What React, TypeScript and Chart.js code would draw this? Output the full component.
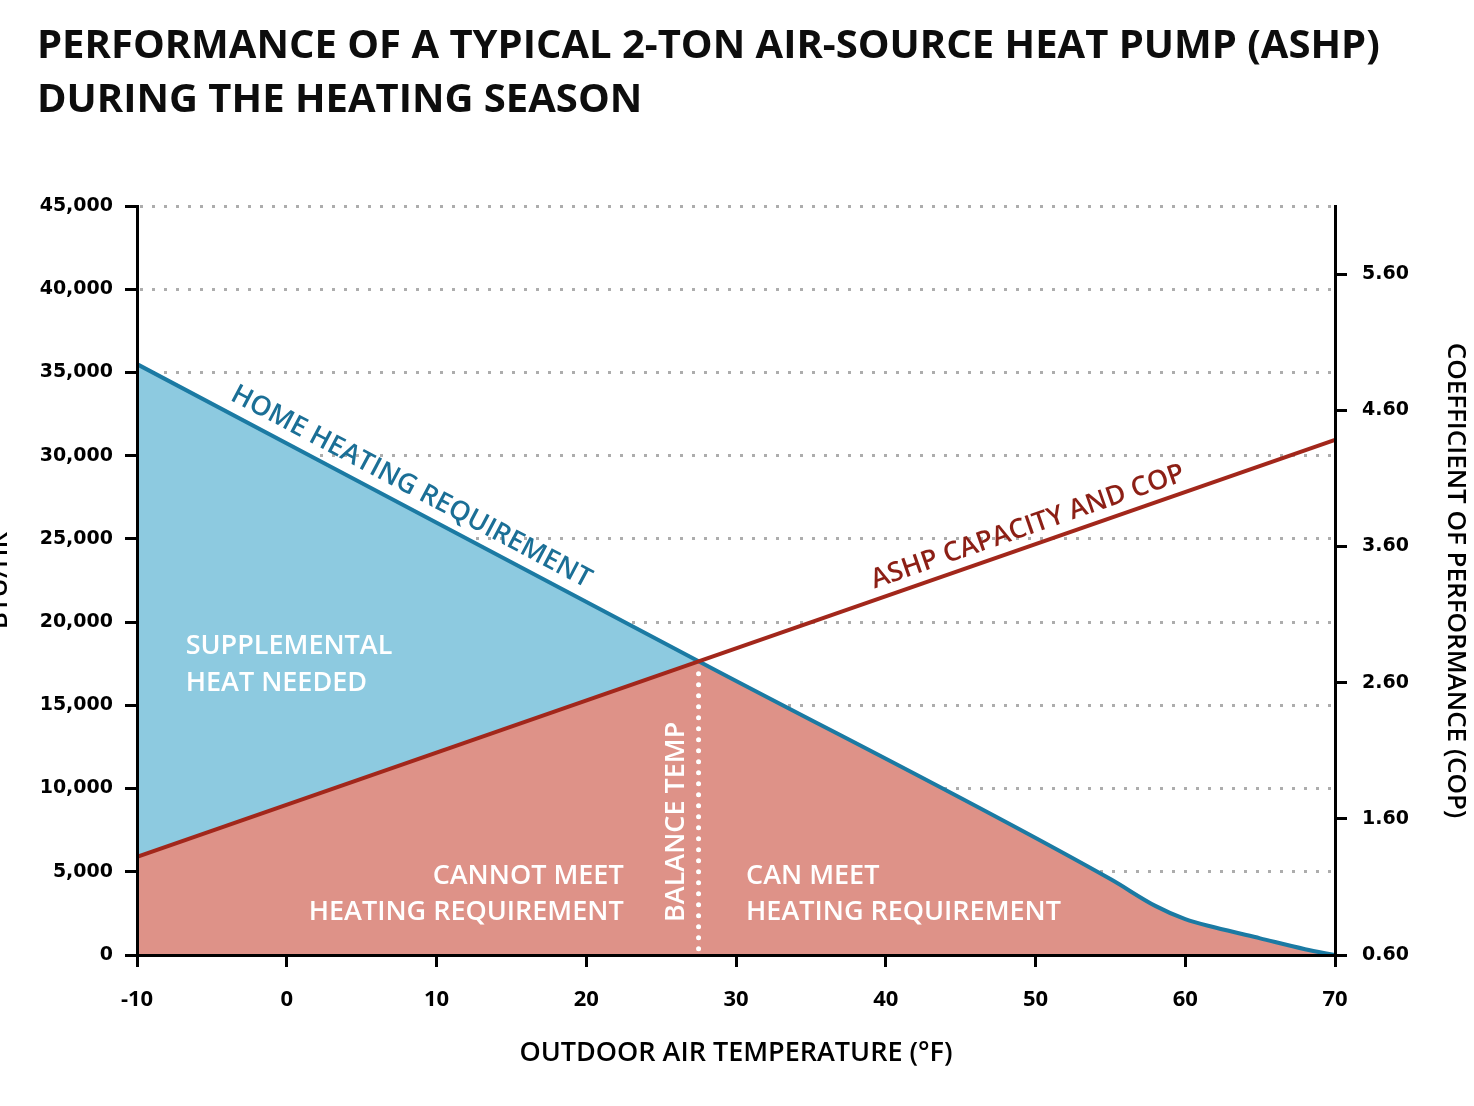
import React, { useEffect, useRef } from 'react';
import { Chart, registerables } from 'chart.js';

Chart.register(...registerables);

const TITLE_LINES = ['PERFORMANCE OF A TYPICAL 2-TON AIR-SOURCE HEAT PUMP (ASHP)', 'DURING THE HEATING SEASON'];
const X_TITLE = 'OUTDOOR AIR TEMPERATURE (°F)';
const Y_TITLE = 'BTU/HR';
const Y2_TITLE = 'COEFFICIENT OF PERFORMANCE (COP)';

const TEMP_MIN = -10;
const TEMP_MAX = 70;
const TEMP_STEP = 10;
const BTU_MIN = 0;
const BTU_MAX = 45000;
const BTU_STEP = 5000;
const COP_TICKS = [0.6, 1.6, 2.6, 3.6, 4.6, 5.6];
const COP_MIN = 0.6;
const COP_MAX = 6.1;

// Home heating requirement (BTU/hr) vs outdoor temperature (°F)
const HEAT_REQ_TEMPS = [-10, 27.5, 55, 58, 60, 62, 65, 68, 70];
const HEAT_REQ_BTU = [35500, 17650, 4560, 2950, 2150, 1650, 1000, 350, 0];
// ASHP capacity (BTU/hr) vs outdoor temperature (°F)
const ASHP_TEMPS = [-10, 70];
const ASHP_BTU = [5900, 30950];
// Balance temperature marker
const BALANCE_TEMPS = [27.5, 27.5];
const BALANCE_BTU = [16900, 250];

const LIGHT_BLUE = '#8dcae0';
const SALMON = '#de9288';
const BLUE_LINE = '#1b7aa3';
const RED_LINE = '#a2271b';
const BLUE_TEXT = '#1b6f96';
const RED_TEXT = '#8c1f15';

const heatReq = HEAT_REQ_TEMPS.map((t, i) => ({ x: t, y: HEAT_REQ_BTU[i] }));
const ashp = ASHP_TEMPS.map((t, i) => ({ x: t, y: ASHP_BTU[i] }));
const balance = BALANCE_TEMPS.map((t, i) => ({ x: t, y: BALANCE_BTU[i] }));

const interp = (xs: number[], ys: number[], t: number) => {
  for (let i = 0; i < xs.length - 1; i++) {
    if (t >= xs[i] && t <= xs[i + 1]) {
      return ys[i] + ((ys[i + 1] - ys[i]) * (t - xs[i])) / (xs[i + 1] - xs[i]);
    }
  }
  return ys[ys.length - 1];
};

const annotationPlugin = {
  id: 'annotations',
  afterDatasetsDraw(chart: any) {
    const { ctx, scales } = chart;
    const x = scales.x;
    const y = scales.y;
    const along = (text: string, xs: number[], ys: number[], t: number, off: number, color: string) => {
      const a0 = x.getPixelForValue(xs[0]);
      const b0 = y.getPixelForValue(ys[0]);
      const a1 = x.getPixelForValue(xs[1]);
      const b1 = y.getPixelForValue(ys[1]);
      const ang = Math.atan2(b1 - b0, a1 - a0);
      ctx.save();
      ctx.translate(x.getPixelForValue(t), y.getPixelForValue(interp(xs, ys, t)));
      ctx.rotate(ang);
      ctx.font = '600 27px "Open Sans"';
      ctx.fillStyle = color;
      ctx.textAlign = 'center';
      ctx.textBaseline = 'alphabetic';
      ctx.fillText(text, 0, off);
      ctx.restore();
    };
    along('HOME HEATING REQUIREMENT', HEAT_REQ_TEMPS, HEAT_REQ_BTU, 7.7, -12, BLUE_TEXT);
    along('ASHP CAPACITY AND COP', ASHP_TEMPS, ASHP_BTU, 49.9, -11, RED_TEXT);

    ctx.save();
    ctx.fillStyle = '#ffffff';
    ctx.font = '600 27px "Open Sans"';
    ctx.textBaseline = 'middle';
    ctx.textAlign = 'left';
    ctx.fillText('SUPPLEMENTAL', x.getPixelForValue(-6.75), y.getPixelForValue(18570));
    ctx.fillText('HEAT NEEDED', x.getPixelForValue(-6.75), y.getPixelForValue(16350));
    ctx.textAlign = 'right';
    ctx.fillText('CANNOT MEET', x.getPixelForValue(22.5), y.getPixelForValue(4750));
    ctx.fillText('HEATING REQUIREMENT', x.getPixelForValue(22.5), y.getPixelForValue(2580));
    ctx.textAlign = 'left';
    ctx.fillText('CAN MEET', x.getPixelForValue(30.67), y.getPixelForValue(4750));
    ctx.fillText('HEATING REQUIREMENT', x.getPixelForValue(30.67), y.getPixelForValue(2580));
    ctx.translate(x.getPixelForValue(26.0), y.getPixelForValue(8000));
    ctx.rotate(-Math.PI / 2);
    ctx.textAlign = 'center';
    ctx.fillText('BALANCE TEMP', 0, 0);
    ctx.restore();

    // left axis title (cut off at the page edge, as in the reference)
    ctx.save();
    const cy = (chart.chartArea.top + chart.chartArea.bottom) / 2;
    ctx.translate(7, cy);
    ctx.rotate(-Math.PI / 2);
    ctx.font = '600 26px "Open Sans"';
    ctx.fillStyle = '#000';
    ctx.textAlign = 'center';
    ctx.textBaseline = 'alphabetic';
    ctx.fillText(Y_TITLE, 0, 0);
    ctx.restore();
  },
};

export default function App() {
  const ref = useRef<HTMLCanvasElement>(null);
  useEffect(() => {
    if (!ref.current) return;
    const chart = new Chart(ref.current, {
      type: 'line',
      data: {
        datasets: [
          {
            label: 'Balance temp',
            data: balance,
            borderColor: '#ffffff',
            borderWidth: 5,
            borderDash: [0, 11],
            borderCapStyle: 'round',
            pointRadius: 0,
            fill: false,
          },
          {
            label: 'ASHP capacity and COP',
            data: ashp,
            borderColor: RED_LINE,
            borderWidth: 4,
            pointRadius: 0,
            fill: false,
          },
          {
            label: 'Home heating requirement',
            data: heatReq,
            borderColor: BLUE_LINE,
            borderWidth: 4,
            pointRadius: 0,
            cubicInterpolationMode: 'monotone',
            fill: false,
          },
          {
            label: 'Supplemental heat needed',
            data: ashp,
            borderWidth: 0,
            borderColor: 'rgba(0,0,0,0)',
            pointRadius: 0,
            fill: { target: 4, above: 'rgba(0,0,0,0)', below: LIGHT_BLUE },
          },
          {
            label: 'Heat pump output',
            data: heatReq,
            borderWidth: 0,
            borderColor: 'rgba(0,0,0,0)',
            pointRadius: 0,
            cubicInterpolationMode: 'monotone',
            backgroundColor: SALMON,
            fill: 'origin',
          },
        ] as any,
      },
      options: {
        responsive: false,
        animation: false,
        layout: { padding: { left: 37, right: 0, top: 0, bottom: 0 } },
        plugins: {
          legend: { display: false },
          tooltip: { enabled: false },
          title: {
            display: true,
            text: TITLE_LINES,
            align: 'start',
            color: '#0d0d0d',
            font: { family: 'Open Sans', size: 40, weight: '700', lineHeight: 1.35 },
            padding: { top: 20, bottom: 78 },
          },
        },
        scales: {
          x: {
            type: 'linear',
            min: TEMP_MIN,
            max: TEMP_MAX,
            ticks: {
              stepSize: TEMP_STEP,
              color: '#000',
              padding: 20,
              font: { family: 'Open Sans', size: 22, weight: '700' },
            },
            grid: { drawOnChartArea: false, lineWidth: 3, tickLength: 12, tickWidth: 3, tickColor: '#000' },
            border: { color: '#000', width: 3, z: 1 },
            title: {
              display: true,
              text: X_TITLE,
              color: '#000',
              font: { family: 'Open Sans', size: 27, weight: '600' },
              padding: { top: 6, bottom: 36 },
            },
            afterFit: (s: any) => {
              s.height = 151;
            },
          },
          y: {
            type: 'linear',
            position: 'left',
            min: BTU_MIN,
            max: BTU_MAX,
            ticks: {
              stepSize: BTU_STEP,
              color: '#000',
              padding: 12,
              font: { family: 'DejaVu Sans', size: 19, weight: 'bold' },
              callback: (v: any) => Number(v).toLocaleString('en-US'),
            },
            grid: {
              drawOnChartArea: true,
              color: (c: any) => (c.tick && c.tick.value === 0 ? 'rgba(0,0,0,0)' : '#adadad'),
              lineWidth: 3,
              tickLength: 12,
              tickWidth: 3,
              tickColor: '#000',
              tickBorderDash: [],
            },
            border: { color: '#000', width: 3, dash: [3, 9], dashOffset: 11, z: 1 },
            afterFit: (s: any) => {
              s.width = 100;
            },
          },
          y2: {
            type: 'linear',
            position: 'right',
            min: COP_MIN,
            max: COP_MAX,
            afterBuildTicks: (s: any) => {
              s.ticks = COP_TICKS.map((v) => ({ value: v }));
            },
            ticks: {
              color: '#000',
              padding: 15,
              font: { family: 'DejaVu Sans', size: 19, weight: 'bold' },
              callback: (v: any) => Number(v).toFixed(2),
            },
            grid: { drawOnChartArea: false, lineWidth: 3, tickLength: 12, tickWidth: 3, tickColor: '#000' },
            border: { color: '#000', width: 3, z: 1 },
            title: {
              display: true,
              text: Y2_TITLE,
              color: '#000',
              font: { family: 'Open Sans', size: 26, weight: '600' },
              padding: { top: 3, bottom: 3 },
            },
            afterFit: (s: any) => {
              s.width = 139;
            },
          },
        },
      } as any,
      plugins: [annotationPlugin],
    });
    return () => chart.destroy();
  }, []);
  return (
    <div style={{ position: 'absolute', left: 0, top: 0, width: 1474, height: 1106, background: '#fff' }}>
      <canvas ref={ref} width={1474} height={1106} style={{ display: 'block' }} />
    </div>
  );
}
